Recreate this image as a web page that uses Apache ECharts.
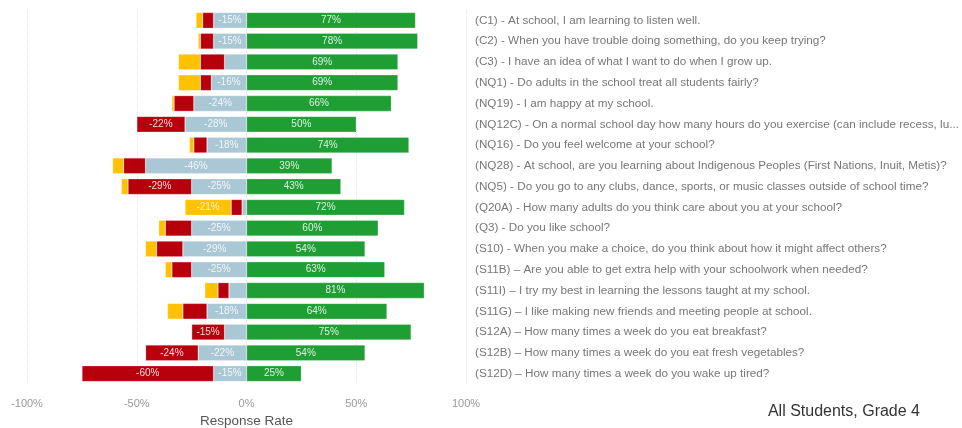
<!DOCTYPE html>
<html>
<head>
<meta charset="utf-8">
<script src="https://cdn.jsdelivr.net/npm/echarts@6/dist/echarts.min.js"></script>
<style>
html,body{margin:0;padding:0;background:#fff;}
#chart{width:962px;height:428px;}
</style>
</head>
<body>
<div id="chart"></div>
<script>
const categories = [
  "(C1) - At school, I am learning to listen well.",
  "(C2) - When you have trouble doing something, do you keep trying?",
  "(C3) - I have an idea of what I want to do when I grow up.",
  "(NQ1) - Do adults in the school treat all students fairly?",
  "(NQ19) - I am happy at my school.",
  "(NQ12C) - On a normal school day how many hours do you exercise (can include recess, lunch, gym class)?",
  "(NQ16) - Do you feel welcome at your school?",
  "(NQ28) - At school, are you learning about Indigenous Peoples (First Nations, Inuit, Metis)?",
  "(NQ5) - Do you go to any clubs, dance, sports, or music classes outside of school time?",
  "(Q20A) - How many adults do you think care about you at your school?",
  "(Q3) - Do you like school?",
  "(S10) - When you make a choice, do you think about how it might affect others?",
  "(S11B) \u2013 Are you able to get extra help with your schoolwork when needed?",
  "(S11I) \u2013 I try my best in learning the lessons taught at my school.",
  "(S11G) \u2013 I like making new friends and meeting people at school.",
  "(S12A) \u2013 How many times a week do you eat breakfast?",
  "(S12B) \u2013 How many times a week do you eat fresh vegetables?",
  "(S12D) \u2013 How many times a week do you wake up tired?"
];
// positive share (green)
const positive = [77, 78, 69, 69, 66, 50, 74, 39, 43, 72, 60, 54, 63, 81, 64, 75, 54, 25];
// neutral share (light blue), drawn to the left of zero
const neutral  = [-15, -15, -10, -16, -24, -28, -18, -46, -25, -2, -25, -29, -25, -8, -18, -10, -22, -15];
// negative share (red)
const negative = [-5, -6, -11, -5, -9, -22, -6, -10, -29, -5, -12, -12, -9, -5, -11, -15, -24, -60];
// don't know / other (yellow)
const other    = [-3, -1, -10, -10, -1, 0, -2, -5, -3, -21, -3, -5, -3, -6, -7, 0, 0, 0];
const xTicks = [-100, -50, 0, 50, 100];

const FONT = 'Arial, "Liberation Sans", sans-serif';
const chart = echarts.init(document.getElementById('chart'));
const labelCfg = {
  show: true,
  position: 'inside',
  color: 'rgba(255,255,255,0.85)',
  fontSize: 10,
  fontFamily: FONT,
  formatter: p => Math.abs(p.value) >= 13 ? p.value + '%' : ''
};
function mk(name, data, color) {
  return {
    name, type: 'bar', stack: 'total', data,
    barCategoryGap: '24%',
    itemStyle: { color, borderColor: 'rgba(255,255,255,0.5)', borderWidth: 0.5 },
    label: labelCfg,
    emphasis: { disabled: true }
  };
}
chart.setOption({
  animation: false,
  grid: { left: 27, right: 496, top: 10, bottom: 44, outerBoundsMode: 'none', containLabel: false },
  xAxis: {
    type: 'value', min: xTicks[0], max: xTicks[xTicks.length - 1], interval: 50,
    axisLine: { show: false }, axisTick: { show: false },
    axisLabel: { formatter: '{value}%', color: '#999', fontSize: 11, margin: 14, fontFamily: FONT },
    splitLine: { show: true, lineStyle: { color: '#e4e4e4', type: 'dotted', width: 1 } },
    name: 'Response Rate', nameLocation: 'middle', nameGap: 30,
    nameTextStyle: { color: '#555', fontSize: 13.5, fontFamily: FONT }
  },
  yAxis: {
    type: 'category', data: categories, inverse: true, position: 'right',
    axisLine: { show: false }, axisTick: { show: false },
    axisLabel: { color: '#777', fontSize: 11.7, margin: 9, width: 490, overflow: 'truncate', fontFamily: FONT },
    splitLine: { show: false }
  },
  series: [
    mk('Positive', positive, '#1f9e34'),
    mk('Neutral', neutral, '#a9c7d5'),
    mk('Negative', negative, '#b8000c'),
    mk('Other', other, '#ffc100')
  ],
  graphic: [{
    type: 'text', right: 42, top: 404,
    style: { text: 'All Students, Grade 4', fill: '#333', fontSize: 16, fontFamily: FONT }
  }]
});
</script>
</body>
</html>
